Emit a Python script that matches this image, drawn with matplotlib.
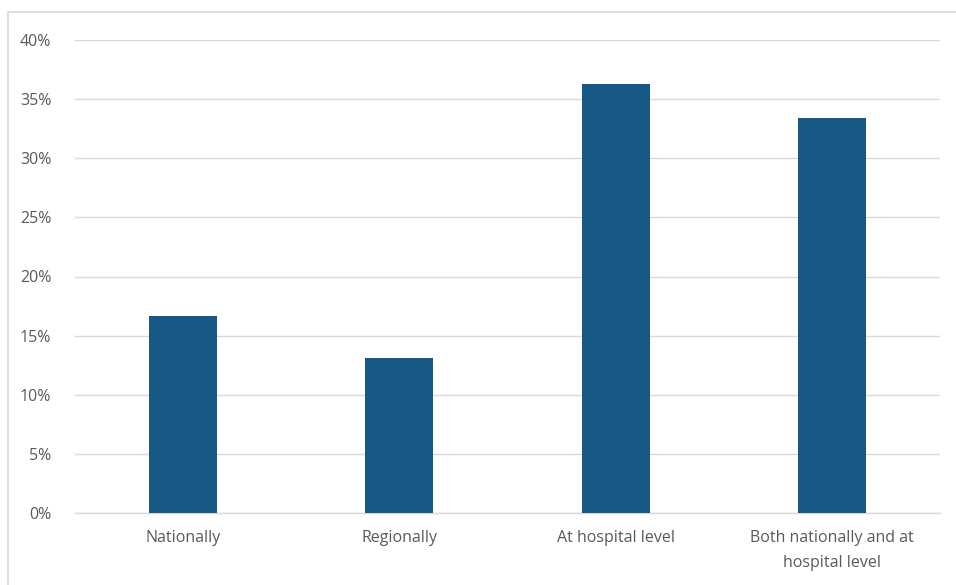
import matplotlib.pyplot as plt
from matplotlib.patches import Rectangle
from matplotlib.ticker import PercentFormatter

# Datos del grafico
categorias = ["Nationally", "Regionally", "At hospital level", "Both nationally and at\nhospital level"]
valores = [16.7, 13.1, 36.3, 33.4]
ticks_y = [0, 5, 10, 15, 20, 25, 30, 35, 40]

W, H = 956, 585
fig = plt.figure(figsize=(W / 100, H / 100), dpi=100)
plt.rcParams['font.family'] = ['Open Sans', 'DejaVu Sans']

# Marco exterior gris (recortado a la derecha y abajo)
fig.patches.append(Rectangle((8 / W, -0.1), 1.2, 1 - 12 / H + 0.1, transform=fig.transFigure,
                             fill=False, edgecolor='#d9d9d9', linewidth=1.2))

ax = fig.add_axes([75 / W, 1 - 513 / H, (940 - 75) / W, (513 - 40) / H])
x = range(len(categorias))
ax.bar(x, valores, width=0.315, color='#185886', zorder=3)

ax.set_xlim(-0.5, len(categorias) - 0.5)
ax.set_ylim(0, 40)
ax.set_yticks(ticks_y)
ax.yaxis.set_major_formatter(PercentFormatter(decimals=0))
ax.set_xticks(list(x))
ax.set_xticklabels(categorias, linespacing=1.75)

ax.grid(axis='y', color='#d9d9d9', linewidth=1, zorder=0)
for s in ['top', 'right', 'left']:
    ax.spines[s].set_visible(False)
ax.spines['bottom'].set_color('#d9d9d9')
ax.spines['bottom'].set_linewidth(1)
ax.tick_params(axis='both', length=0, labelsize=11.5, colors='#595959')
ax.tick_params(axis='y', pad=17)
ax.tick_params(axis='x', pad=12)

fig.savefig('out.png', dpi=100)
